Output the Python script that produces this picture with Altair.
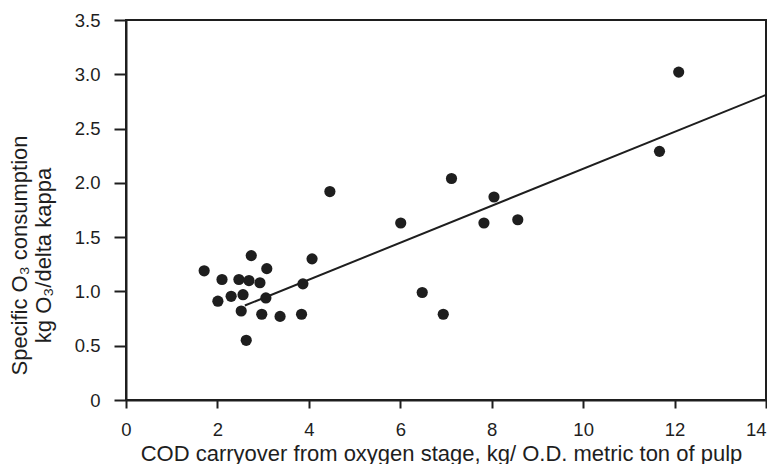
import altair as alt
import pandas as pd

# Scatter data (COD carryover, specific O3 consumption)
cod = [1.71, 2.74, 3.08, 4.07, 2.10, 2.47, 2.69, 2.93, 3.87, 2.01, 2.30, 2.56, 3.06, 2.52,
       2.97, 3.37, 3.84, 2.63, 4.46, 6.01, 6.48, 6.94, 7.12, 7.83, 8.05, 8.57, 11.67, 12.09]
o3 = [1.19, 1.33, 1.21, 1.30, 1.11, 1.11, 1.10, 1.08, 1.07, 0.91, 0.955, 0.97, 0.94, 0.82,
      0.79, 0.77, 0.79, 0.55, 1.92, 1.63, 0.99, 0.79, 2.04, 1.63, 1.87, 1.66, 2.29, 3.02]

# Regression line end points
fit_x = [2.6, 14.0]
fit_y = [0.87, 2.81]

x_ticks = [0, 2, 4, 6, 8, 10, 12, 14]
y_ticks = [0, 0.5, 1.0, 1.5, 2.0, 2.5, 3.0, 3.5]

pts = pd.DataFrame({"x": cod, "y": o3})
fit = pd.DataFrame({"x": fit_x, "y": fit_y})

FONT = "Liberation Sans"
INK = "#1e1e1e"

xscale = alt.Scale(domain=[0, 14], nice=False, zero=False)
yscale = alt.Scale(domain=[0, 3.5], nice=False, zero=False)

xaxis = alt.Axis(
    values=x_ticks, format="d", grid=False, labelFlush=False,
    labelAlign={"condition": {"test": "datum.value >= 14", "value": "right"}, "value": "center"},
    title="COD carryover from oxygen stage, kg/ O.D. metric ton of pulp",
    domainColor=INK, domainWidth=2, tickColor=INK, tickWidth=2, tickSize=8,
    labelFont=FONT, labelFontSize=18.5, labelColor=INK, labelPadding=27,
    labelBaseline="alphabetic",
    titleFont=FONT, titleFontSize=22, titleFontWeight="normal", titleColor=INK,
    titleBaseline="alphabetic", titleY=60, titleX=315, titleAlign="center",
)
yaxis = alt.Axis(
    values=y_ticks, grid=False,
    labelExpr="datum.value == 0 ? '0' : format(datum.value, '.1f')",
    title=["Specific O₃ consumption", "kg O₃/delta kappa"],
    domainColor=INK, domainWidth=2, tickColor=INK, tickWidth=2, tickSize=12,
    labelFont=FONT, labelFontSize=18.5, labelColor=INK, labelPadding=14,
    titleFont=FONT, titleFontSize=22, titleFontWeight="normal", titleColor=INK,
    titleAngle=270, titleBaseline="top", titleAlign="center", titleLineHeight=24,
    titleX=-117, titleY=235,
)

points = alt.Chart(pts).mark_circle(size=125, opacity=1, color=INK).encode(
    x=alt.X("x:Q", scale=xscale, axis=xaxis),
    y=alt.Y("y:Q", scale=yscale, axis=yaxis),
)
line = alt.Chart(fit).mark_line(color=INK, strokeWidth=2).encode(
    x=alt.X("x:Q", scale=xscale),
    y=alt.Y("y:Q", scale=yscale),
)

chart = (
    alt.layer(line, points)
    .properties(
        width=640, height=380,
        autosize=alt.AutoSizeParams(type="none"),
        padding={"left": 118, "top": 12, "right": 1, "bottom": 64},
        background="white",
    )
    .configure_view(stroke=INK, strokeWidth=2)
)

chart.save("out.html", embed_options={"renderer": "svg", "actions": False})
